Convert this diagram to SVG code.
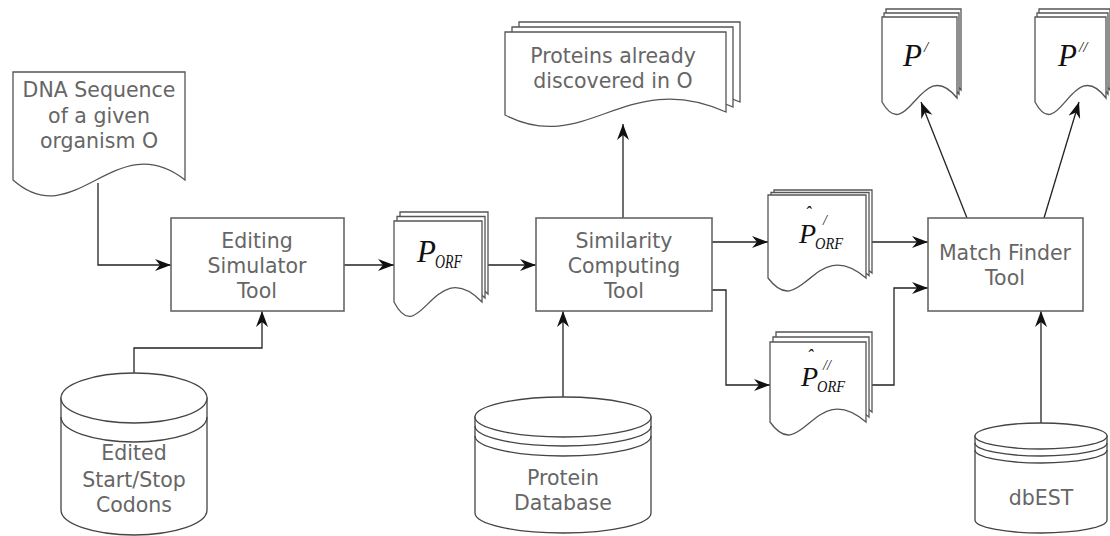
<svg xmlns="http://www.w3.org/2000/svg" width="1110" height="536" viewBox="0 0 1110 536">
<defs>
<marker id="ah" markerUnits="userSpaceOnUse" markerWidth="18" markerHeight="14" refX="16" refY="6" orient="auto">
<path d="M0,0 L16,6 L0,12 L5,6 Z" fill="#111"/>
</marker>
<style>
.box{fill:#fff;stroke:#666;stroke-width:1.6}
.doc{fill:#fff;stroke:#555;stroke-width:1.3}
.cyl{fill:#fff;stroke:#444;stroke-width:1.3}
.band{fill:none;stroke:#444;stroke-width:1.3}
.lbl{font-family:"DejaVu Sans",Verdana,sans-serif;font-size:20.5px;fill:#666;text-anchor:middle}
.m{font-family:"Liberation Serif","Times New Roman",serif;font-style:italic;fill:#111}
.con{fill:none;stroke:#222;stroke-width:1.3;marker-end:url(#ah)}
</style>
</defs>
<rect width="1110" height="536" fill="#fff"/>

<g id="connectors">
<path class="con" d="M98,183 V265 H171"/>
<path class="con" d="M134,373 V348 H262 V311"/>
<path class="con" d="M344,265 H394"/>
<path class="con" d="M488,265 H536"/>
<path class="con" d="M623,218 V124"/>
<path class="con" d="M563,397 V311"/>
<path class="con" d="M712,242 H768"/>
<path class="con" d="M712,290 H726 V385 H770"/>
<path class="con" d="M872,242 H928"/>
<path class="con" d="M872,385 H894 V288 H928"/>
<path class="con" d="M967,218 L921,102"/>
<path class="con" d="M1044,218 L1079,102"/>
<path class="con" d="M1041,423 V311"/>
</g>

<g id="dna">
<path class="doc" d="M13,72 H185 V180 C115,125 75,235 13,180 Z"/>
<text class="lbl" x="99" y="97">DNA Sequence</text>
<text class="lbl" x="99" y="123">of a given</text>
<text class="lbl" x="99" y="148">organism O</text>
</g>

<g id="editing">
<rect class="box" x="171" y="218" width="173" height="93"/>
<text class="lbl" x="257" y="248">Editing</text>
<text class="lbl" x="257" y="273">Simulator</text>
<text class="lbl" x="257" y="298">Tool</text>
</g>

<g id="porf">
<path class="doc" d="M400,212 H488 V294 C440,244 426,344 400,294 Z"/>
<path class="doc" d="M397,216.5 H485 V298 C437,248 423,348 397,298 Z"/>
<path class="doc" d="M394,221 H482 V302 C434,252 420,352 394,302 Z"/>
<text class="m" x="417" y="262" font-size="31">P</text>
<text class="m" x="435" y="268" font-size="18" textLength="27" lengthAdjust="spacingAndGlyphs">ORF</text>
</g>

<g id="similarity">
<rect class="box" x="536" y="218" width="176" height="93"/>
<text class="lbl" x="624" y="248">Similarity</text>
<text class="lbl" x="624" y="273">Computing</text>
<text class="lbl" x="624" y="298">Tool</text>
</g>

<g id="proteins">
<path class="doc" d="M519,22 H740 V102 C640,57 600,147 519,105 Z"/>
<path class="doc" d="M512,27 H733 V107 C633,62 593,152 512,110 Z"/>
<path class="doc" d="M505,32 H726 V112 C626,67 586,157 505,115 Z"/>
<text class="lbl" x="613" y="63">Proteins already</text>
<text class="lbl" x="613" y="88">discovered in O</text>
</g>

<g id="phat1">
<path class="doc" d="M774,190 H872 V273 C820,228 808,318 774,273 Z"/>
<path class="doc" d="M771,192.5 H869 V275.5 C817,230.5 805,320.5 771,275.5 Z"/>
<path class="doc" d="M768,195 H866 V278 C814,233 802,323 768,278 Z"/>
<text class="m" x="799" y="243" font-size="28">P</text>
<text class="m" x="805" y="219" font-size="18">ˆ</text>
<text class="m" x="823" y="225" font-size="14">/</text>
<text class="m" x="815" y="249" font-size="17" textLength="28" lengthAdjust="spacingAndGlyphs">ORF</text>
</g>

<g id="phat2">
<path class="doc" d="M776,332 H872 V412 C820,367 808,457 776,412 Z"/>
<path class="doc" d="M773,337 H869 V417 C817,372 805,462 773,417 Z"/>
<path class="doc" d="M770,342 H866 V422 C814,377 802,467 770,422 Z"/>
<text class="m" x="801" y="386" font-size="28">P</text>
<text class="m" x="807" y="362" font-size="18">ˆ</text>
<text class="m" x="823" y="370" font-size="14">//</text>
<text class="m" x="817" y="392" font-size="17" textLength="28" lengthAdjust="spacingAndGlyphs">ORF</text>
</g>

<g id="match">
<rect class="box" x="928" y="218" width="155" height="93"/>
<text class="lbl" x="1005" y="260">Match Finder</text>
<text class="lbl" x="1005" y="285">Tool</text>
</g>

<g id="pprime">
<path class="doc" d="M886,9 H961 V90 C925,45 912,139 886,94 Z" stroke="#111"/>
<path class="doc" d="M884,13 H959 V94 C923,49 910,143 884,98 Z"/>
<path class="doc" d="M882,17 H957 V98 C921,53 908,147 882,102 Z"/>
<text class="m" x="903" y="66" font-size="31">P</text>
<text class="m" x="924" y="52" font-size="15">/</text>
</g>

<g id="pdprime">
<path class="doc" d="M1039,9 H1110 V90 C1076,45 1063,139 1039,94 Z" stroke="#111"/>
<path class="doc" d="M1037,13 H1108 V94 C1074,49 1061,143 1037,98 Z"/>
<path class="doc" d="M1035,17 H1106 V98 C1072,53 1059,147 1035,102 Z"/>
<text class="m" x="1058" y="66" font-size="31">P</text>
<text class="m" x="1079" y="52" font-size="15">//</text>
</g>

<g id="codons">
<path class="cyl" d="M61,398 V510 A73,25 0 0 0 207,510 V398 Z"/>
<ellipse class="cyl" cx="134" cy="398" rx="73" ry="25"/>
<path class="band" d="M61,417 A73,25 0 0 0 207,417"/>
<text class="lbl" x="134" y="460">Edited</text>
<text class="lbl" x="134" y="487">Start/Stop</text>
<text class="lbl" x="134" y="512">Codons</text>
</g>

<g id="proteindb">
<path class="cyl" d="M475,417 V513 A88,20 0 0 0 651,513 V417 Z"/>
<ellipse class="cyl" cx="563" cy="417" rx="88" ry="20"/>
<path class="band" d="M475,426 A88,20 0 0 0 651,426"/>
<path class="band" d="M475,436 A88,20 0 0 0 651,436"/>
<text class="lbl" x="563" y="485">Protein</text>
<text class="lbl" x="563" y="510">Database</text>
</g>

<g id="dbest">
<path class="cyl" d="M975,436 V520 A66,13 0 0 0 1107,520 V436 Z"/>
<ellipse class="cyl" cx="1041" cy="436" rx="66" ry="13"/>
<path class="band" d="M975,443 A66,13 0 0 0 1107,443"/>
<path class="band" d="M975,450 A66,13 0 0 0 1107,450"/>
<text class="lbl" x="1041" y="505">dbEST</text>
</g>
</svg>
